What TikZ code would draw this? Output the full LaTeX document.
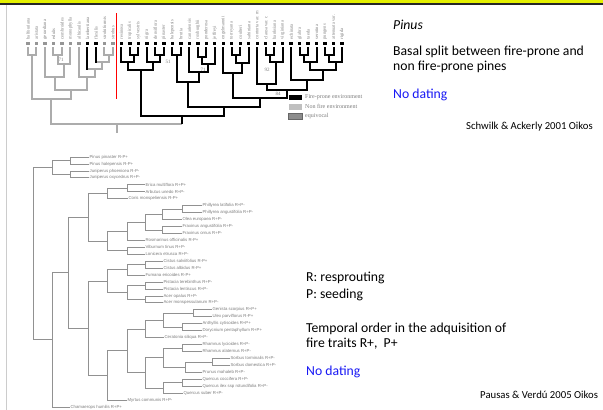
\documentclass[tikz,border=0pt]{standalone}
\usepackage{fontspec}
\setmainfont{Carlito}
\newfontfamily\treeserif{Liberation Serif}
\newfontfamily\treesans{Liberation Sans}
\definecolor{slideyellow}{RGB}{228,240,0}
\definecolor{tgray}{RGB}{172,172,172}
\definecolor{mgray}{RGB}{150,150,150}
\definecolor{lgray}{RGB}{145,145,145}
\definecolor{labgray}{RGB}{125,125,125}
\definecolor{nodate}{RGB}{25,25,245}
\newcommand\vb[6]{\draw[#1] (#2,#3)--(#2,#6)--(#4,#6)--(#4,#5);}
\newcommand\hb[5]{\draw[bline] (#1,#2)--(#3,#2)--(#3,#4)--(#5,#4);}
\begin{document}
\begin{tikzpicture}[x=1pt,y=-1pt,
  blk/.style={line width=2pt,black},
  gry/.style={line width=2pt,tgray},
  bline/.style={line width=0.7pt,lgray},
  tlab/.style={rotate=90,anchor=west,inner sep=0pt,font=\treeserif\fontsize{4.6}{5}\selectfont,text=labgray},
  blab/.style={anchor=west,inner sep=0.4pt,font=\treesans\fontsize{4.3}{4.5}\selectfont,text=labgray},
  bs/.style={inner sep=0pt,font=\treeserif\fontsize{5}{5}\selectfont,text=labgray},
  leg/.style={anchor=west,inner sep=0pt,font=\treeserif\fontsize{6}{6}\selectfont,text=labgray},
  big/.style={anchor=base west,inner sep=0pt,font=\fontsize{13.7}{15}\selectfont},
  cite/.style={anchor=base west,inner sep=0pt,font=\fontsize{10.7}{12}\selectfont}]
\useasboundingbox (0,0) rectangle (603,410);
\fill[white] (0,0) rectangle (603,410);
% slide frame
\fill[slideyellow] (0,0) rectangle (603,3);
\fill[black!85] (0,3) rectangle (603,5);
\draw[black!20,line width=1.2pt] (6.5,5)--(6.5,410);

% ---------------- top tree (Pinus) ----------------
\foreach \i/\n in {0/balfouriana,1/aristata,2/gerardiana,3/edulis,4/cembroides,5/monophylla,6/albicaulis,7/lambertiana,8/flexilis,9/strobiformis,10/strobus,11/resinosa,12/tropicalis,13/sylvestris,14/nigra,15/densiflora,16/pinaster,17/halepensis,18/brutia,19/canariensis,20/roxburghii,21/ponderosa,22/jeffreyi,23/engelmannii,24/torreyana,25/coulteri,26/sabiniana,27/contorta var. m,28/clausa var. c,29/banksiana,30/virginiana,31/echinata,32/glabra,33/taeda,34/serotina,35/pungens,36/attenuata var.,37/rigida}
  {\node[tlab] (t\i) at ({28+8.49*\i},39.5) {\n};}
\foreach \i in {0,...,6,9,10}
  {\fill[mgray] ({28+8.49*\i-1.7},41.6) rectangle ({28+8.49*\i+1.7},44.6);}
\foreach \i in {7,8,11,12,...,37}
  {\fill[black] ({28+8.49*\i-1.7},41.6) rectangle ({28+8.49*\i+1.7},44.6);}
% gray clade
\vb{gry}{28}{47}{36.49}{47}{55}
\vb{gry}{53.47}{47}{61.96}{47}{55}
\vb{gry}{57.72}{55}{70.45}{47}{64}
\vb{gry}{44.98}{47}{64.09}{64}{77}
\vb{gry}{104.41}{47}{112.90}{47}{55}
\draw[gry] (95.92,62)--(108.66,62)--(108.66,55);
\draw[blk] (95.92,47)--(95.92,63);
\draw[gry] (87.43,69)--(102.29,69)--(102.29,62);
\draw[blk] (87.43,47)--(87.43,70);
\vb{gry}{78.94}{47}{94.86}{69}{77}
\vb{gry}{54.53}{77}{86.9}{77}{90}
\vb{gry}{32.25}{55}{70.72}{90}{99}
\draw[gry] (51.48,99)--(51.48,124)--(182.15,124);
\draw[gry] (116.8,124)--(116.8,133);
% black clade
\vb{blk}{129.88}{47}{138.37}{47}{55}
\vb{blk}{121.39}{47}{134.13}{55}{62}
\vb{blk}{155.35}{47}{163.84}{47}{55}
\vb{blk}{146.86}{47}{159.6}{55}{62}
\vb{blk}{127.76}{62}{153.23}{62}{70}
\vb{blk}{172.33}{47}{180.82}{47}{55}
\vb{blk}{197.80}{47}{206.29}{47}{57}
\vb{blk}{202.05}{57}{214.78}{47}{64}
\vb{blk}{189.31}{47}{208.42}{64}{72}
\vb{blk}{176.58}{55}{198.87}{72}{82}
\vb{blk}{231.76}{47}{240.25}{47}{55}
\vb{blk}{236.0}{55}{248.74}{47}{63}
\vb{blk}{223.27}{47}{242.37}{63}{73}
\vb{blk}{265.72}{47}{274.21}{47}{55}
\vb{blk}{269.97}{55}{282.70}{47}{62}
\vb{blk}{257.23}{47}{276.33}{62}{84}
\vb{blk}{299.68}{47}{308.17}{47}{55}
\vb{blk}{303.93}{55}{316.66}{47}{62}
\vb{blk}{325.15}{47}{333.64}{47}{55}
\vb{blk}{329.4}{55}{342.13}{47}{62}
\vb{blk}{310.29}{62}{335.76}{62}{70}
\vb{blk}{291.19}{47}{323.03}{70}{80}
\vb{blk}{266.78}{84}{307.11}{80}{90}
\vb{blk}{232.82}{73}{286.95}{90}{98}
\vb{blk}{187.72}{82}{259.88}{98}{107}
\vb{blk}{140.5}{70}{223.8}{107}{116}
\draw[blk] (182.15,116)--(182.15,124);
\draw[red,line width=0.9pt] (116.8,13)--(116.8,99);
\node[bs] (s1) at (61,60) {71};
\node[bs] (s2) at (168,62) {51};
\node[bs] (s3) at (203,70) {71};
\node[bs] (s4) at (267,70) {92};
\node[bs] (s5) at (278,94) {84};
\fill[black] (288.5,94.5) rectangle (302,100);
\node[leg] (l1) at (305,97.3) {Fire-prone environment};
\fill[black!25] (288.5,104) rectangle (302,109.5);
\node[leg] (l2) at (305,106.7) {Non fire environment};
\filldraw[fill=black!45,draw=black!60,line width=0.5pt] (288.5,113.3) rectangle (302,118.8);
\node[leg] (l3) at (305,116) {equivocal};

% ---------------- bottom tree ----------------
\hb{89}{157.0}{70}{163.9}{89}
\hb{89}{170.9}{70}{177.8}{89}
\hb{70}{160.45}{52}{174.35}{70}
\hb{52}{167.4}{33}{339.8}{52}
\hb{68}{272.75}{52}{406.9}{70}
\hb{88}{217.25}{68}{328.25}{88}
\hb{107}{193.5}{88}{241}{107}
\hb{145}{184.8}{127}{191.7}{145}
\hb{127}{188.25}{107}{198.7}{128}
\hb{127}{231.2}{107}{250.75}{127}
\hb{145}{222.1}{127}{240.3}{145}
\hb{162}{214.3}{145}{229.9}{162}
\hb{182}{209.1}{162}{219.5}{182}
\hb{202}{205.6}{182}{212.6}{202}
\hb{182}{226.4}{162}{233.4}{182}
\hb{145}{247.3}{127}{254.2}{145}
\hb{107}{281.1}{88}{375.4}{107}
\hb{127}{269.8}{107}{292.4}{127}
\hb{145}{264.65}{127}{275.0}{145}
\hb{163}{261.2}{145}{268.1}{163}
\hb{145}{285.45}{127}{299.35}{145}
\hb{163}{282.0}{145}{288.9}{163}
\hb{163}{295.9}{145}{302.8}{163}
\hb{127}{350.8}{107}{400.0}{127}
\hb{145}{328.85}{127}{372.7}{145}
\hb{163}{320.2}{145}{337.5}{164}
\hb{193}{313.25}{163}{327.15}{182}
\hb{212}{309.8}{193}{316.7}{212}
\hb{202}{323.7}{182}{330.6}{202}
\hb{163}{357.5}{145}{387.9}{163}
\hb{182}{347.95}{163}{367.0}{185}
\hb{202}{344.5}{182}{351.4}{202}
\hb{212}{361.85}{185}{372.2}{202}
\hb{230}{358.4}{212}{365.3}{230}
\hb{182}{382.65}{163}{393.1}{183}
\hb{202}{379.2}{182}{386.1}{202}
\node[blab] (b0) at (89,157.0) {Pinus pinaster R-P+};
\node[blab] (b1) at (89,163.9) {Pinus halepensis R-P+};
\node[blab] (b2) at (89,170.9) {Juniperus phoenicea R-P-};
\node[blab] (b3) at (89,177.8) {Juniperus oxycedrus R+P-};
\node[blab] (b4) at (145,184.8) {Erica multiflora R+P+};
\node[blab] (b5) at (145,191.7) {Arbutus unedo R+P-};
\node[blab] (b6) at (128,198.7) {Coris monspeliensis R-P+};
\node[blab] (b7) at (202,205.6) {Phillyrea latifolia R+P-};
\node[blab] (b8) at (202,212.6) {Phillyrea angustifolia R+P-};
\node[blab] (b9) at (182,219.5) {Olea europaea R+P-};
\node[blab] (b10) at (182,226.4) {Fraxinus angustifolia R+P-};
\node[blab] (b11) at (182,233.4) {Fraxinus ornus R+P-};
\node[blab] (b12) at (145,240.3) {Rosmarinus officinalis R-P+};
\node[blab] (b13) at (145,247.3) {Viburnum tinus R+P-};
\node[blab] (b14) at (145,254.2) {Lonicera etrusca R+P-};
\node[blab] (b15) at (163,261.2) {Cistus salviifolius R-P+};
\node[blab] (b16) at (163,268.1) {Cistus albidus R-P+};
\node[blab] (b17) at (145,275.0) {Fumana ericoides R-P+};
\node[blab] (b18) at (163,282.0) {Pistacia terebinthus R+P-};
\node[blab] (b19) at (163,288.9) {Pistacia lentiscus R+P-};
\node[blab] (b20) at (163,295.9) {Acer opalus R+P-};
\node[blab] (b21) at (163,302.8) {Acer monspessulanum R+P-};
\node[blab] (b22) at (212,309.8) {Genista scorpius R+P+};
\node[blab] (b23) at (212,316.7) {Ulex parviflorus R-P+};
\node[blab] (b24) at (202,323.7) {Anthyllis cytisoides R+P+};
\node[blab] (b25) at (202,330.6) {Dorycnium pentaphyllum R+P+};
\node[blab] (b26) at (164,337.5) {Ceratonia siliqua R+P-};
\node[blab] (b27) at (202,344.5) {Rhamnus lycioides R+P-};
\node[blab] (b28) at (202,351.4) {Rhamnus alaternus R+P-};
\node[blab] (b29) at (230,358.4) {Sorbus torminalis R+P-};
\node[blab] (b30) at (230,365.3) {Sorbus domestica R+P-};
\node[blab] (b31) at (202,372.2) {Prunus mahaleb R+P-};
\node[blab] (b32) at (202,379.2) {Quercus coccifera R+P-};
\node[blab] (b33) at (202,386.1) {Quercus ilex ssp rotundifolia R+P-};
\node[blab] (b34) at (183,393.1) {Quercus suber R+P-};
\node[blab] (b35) at (127,400.0) {Myrtus communis R+P-};
\node[blab] (b36) at (70,406.9) {Chamaerops humilis R+P+};

% ---------------- slide text ----------------
\node[big] (pinus) at (393,29.5) {\textit{Pinus}};
\node[big] (basal1) at (393,55.5) {Basal split between fire-prone and};
\node[big] (basal2) at (393,70) {non fire-prone pines};
\node[big,text=nodate] (nod1) at (393,98) {No dating};
\node[cite] (cit1) at (466,129.6) {Schwilk \& Ackerly 2001 Oikos};
\node[big] (r) at (306,281.5) {R: resprouting};
\node[big] (p) at (306,298) {P: seeding};
\node[big] (temp1) at (306,332) {Temporal order in the adquisition of};
\node[big] (temp2) at (306,347) {fire traits R+,~ P+};
\node[big,text=nodate] (nod2) at (306,375.5) {No dating};
\node[cite] (cit2) at (480,398.6) {Pausas \& Verdú 2005 Oikos};
\end{tikzpicture}
\end{document}
